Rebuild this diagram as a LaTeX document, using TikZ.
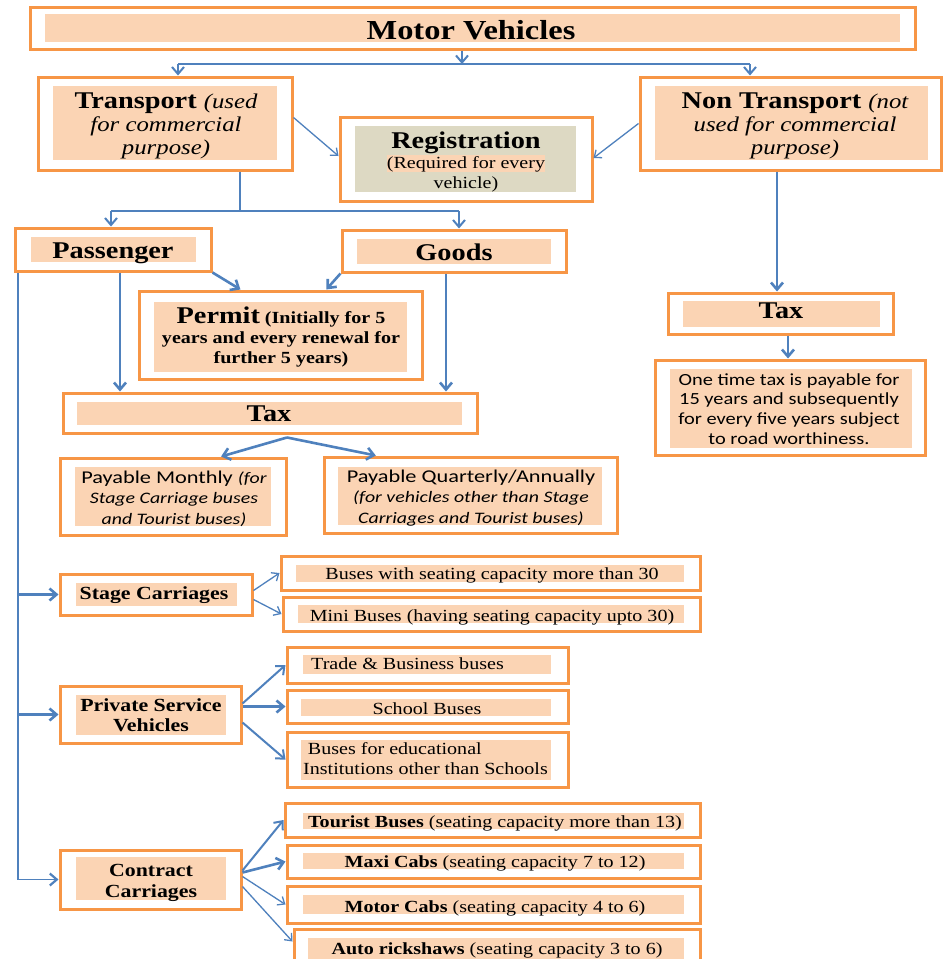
\documentclass[tikz,border=0pt]{standalone}
\usepackage{fontspec}
\setmainfont{Liberation Serif}
\newfontfamily\calib{Carlito}
\usepackage{graphicx}
\usetikzlibrary{arrows.meta,calc,fit}
\definecolor{bor}{HTML}{F79646}
\definecolor{peach}{HTML}{FBD4B4}
\definecolor{tanbg}{HTML}{DDD9C3}
\definecolor{arr}{HTML}{4F81BD}
\newcommand\T[3][1.18]{\scalebox{#1}[1]{\begin{tabular}[t]{@{}#2@{}}#3\end{tabular}}}
\newcommand\fs[2]{\fontsize{#1}{#2}\selectfont}
\newcommand\iTx{\normalfont\itshape\fs{21}{23}}
\newcommand\bx[9]{%
  \node[obox, fit={(#2,#3)(#4,#5)}] (#1) {};
  \fill[peach] (#6,#7) rectangle (#8,#9);
}
\tikzset{
  obox/.style={draw=bor, line width=3pt, inner sep=0pt, rectangle},
  conn/.style={draw=arr, line width=2pt, -{Straight Barb[length=7pt,width=12pt]}},
  thinc/.style={draw=arr, line width=1.3pt, -{Straight Barb[length=6pt,width=10pt]}},
  thickc/.style={draw=arr, line width=2.6pt, -{Straight Barb[length=7pt,width=12pt]}},
  plain/.style={draw=arr, line width=1.5pt},
  txt/.style={inner sep=0pt, anchor=base},
  txtl/.style={inner sep=0pt, anchor=base west},
}
\begin{document}
\begin{tikzpicture}[x=1pt,y=-1pt]
\useasboundingbox (0,0) rectangle (944,959);
\fill[white] (0,0) rectangle (944,959);
\clip (0,0) rectangle (944,959);
% boxes
\bx{mv}{30}{7}{915}{49}{45}{14}{900}{42}
\bx{tr}{38}{77}{292}{170}{53}{86}{277}{160}
\bx{reg}{340}{117}{592}{201}{355}{126}{576}{192}
\fill[tanbg] (355,126) rectangle (576,192);
\fill[peach] (387,155) rectangle (545,172);
\bx{nt}{640}{77}{941}{170}{655}{86}{928}{160}
\bx{pa}{15}{228}{211}{271}{31}{237}{196}{262}
\bx{go}{342}{230}{566}{272}{357}{239}{551}{264}
\bx{pe}{139}{291}{422}{379}{154}{302}{407}{372}
\bx{tx1}{63}{393}{477}{433}{77}{402}{462}{425}
\bx{pm}{60}{458}{286}{535}{75}{467}{271}{526}
\bx{pq}{324}{457}{617}{533}{338}{467}{602}{525}
\bx{tx2}{668}{293}{893}{334}{683}{301}{880}{327}
\bx{ot}{655}{360}{925}{455}{670}{369}{912}{448}
\bx{sc}{60}{574}{252}{615}{76}{583}{237}{606}
\bx{bw}{281}{556}{700}{590}{296}{565}{684}{582}
\bx{mb}{283}{597}{700}{631}{298}{605}{684}{623}
\bx{psv}{60}{686}{241}{743}{76}{695}{226}{735}
\bx{tb}{287}{647}{568}{683}{303}{655}{551}{674}
\bx{sb}{287}{690}{568}{723}{301}{699}{551}{716}
\bx{be}{287}{732}{568}{787}{301}{740}{551}{780}
\bx{cc}{60}{850}{241}{909}{76}{857}{226}{900}
\bx{tu}{285}{803}{700}{837}{303}{813}{684}{829}
\bx{mx}{287}{845}{700}{878}{303}{853}{684}{869}
\bx{mc}{287}{886}{700}{923}{303}{895}{684}{914}
\bx{ar}{294}{929}{700}{975}{308}{938}{684}{968}
% connectors
\coordinate (j1) at (462,64);
\coordinate (jl) at (178,64);
\coordinate (jr) at (750,64);
\draw[conn] (mv.south -| j1) -- (j1);
\draw[plain, line width=1.3pt] (jl) -- (jr);
\draw[conn] (jl) -- (jl |- tr.north);
\draw[conn] (jr) -- (jr |- nt.north);
\draw[thinc] ([yshift=6pt]tr.east) -- ([yshift=3pt]reg.west);
\draw[thinc] (nt.west) -- ([yshift=1pt]reg.east);
\coordinate (j2) at (240,211);
\coordinate (jpl) at (111,211);
\coordinate (jpr) at (459,211);
\draw[plain, line width=1.2pt] (tr.south -| j2) -- (j2);
\draw[plain] (jpl) -- (jpr);
\draw[conn] (jpl) -- (jpl |- pa.north);
\draw[conn] (jpr) -- (jpr |- go.north);
\coordinate (xn) at (777,0);
\draw[thickc] (nt.south -| xn) -- (tx2.north -| xn);
\draw[thickc] (pa.south east) -- ($(pe.north west)!0.36!(pe.north east)$);
\draw[thickc] (go.south west) -- ($(pe.north west)!0.66!(pe.north east)$);
\coordinate (xp) at (120,0);
\draw[thickc] (pa.south -| xp) -- (tx1.north -| xp);
\coordinate (xg) at (446,0);
\draw[thickc] (go.south -| xg) -- (tx1.north -| xg);
\draw[thickc] ($(tx1.south)+(17,3)$) -- ($(pm.north west)!0.71!(pm.north east)$);
\draw[thickc] ($(tx1.south)+(17,3)$) -- ($(pq.north west)!0.18!(pq.north east)$);
\coordinate (xt) at (788,0);
\draw[thickc] (tx2.south -| xt) -- (ot.north -| xt);
\coordinate (xl) at (18,0);
\draw[draw=arr, line width=1.5pt, -{Straight Barb[length=7pt,width=12pt,line width=2.2pt]}] (pa.south -| xl) -- (xl |- cc.west) -- (cc.west);
\draw[thickc] (xl |- sc.west) -- (sc.west);
\draw[thickc] (xl |- psv.west) -- (psv.west);
\draw[thinc] ([yshift=4pt]sc.east) -- (bw.west);
\draw[thinc] ([yshift=-5pt]sc.east) -- (mb.west);
\draw[conn] ([yshift=11pt]psv.east) -- (tb.west);
\draw[thickc] (sb.west -| psv.east) -- (sb.west);
\draw[conn] ([yshift=-8pt]psv.east) -- (be.west);
\draw[conn] ([yshift=9pt]cc.east) -- (tu.west);
\draw[thickc] ([yshift=7pt]cc.east) -- (mx.west);
\draw[thinc] ([yshift=3pt]cc.east) -- (mc.west);
\draw[thinc] ([yshift=-7pt]cc.east) -- ($(ar.north west)+(0,14)$);
% texts
\node[txt, font=\fs{27.5}{30}\bfseries] (tmv) at (471,39) {\T{c}{Motor Vehicles}};
\node[txt, font=\fs{24}{23}] (ttr) at (166,108) {\T{c}{\bfseries Transport \iTx(used\\ \iTx for commercial\\ \iTx purpose)}};
\node[txt, font=\fs{24}{23}] (tnt) at (795,108) {\T{c}{\bfseries Non Transport \iTx(not\\ \iTx used for commercial\\ \iTx purpose)}};
\node[txt, font=\fs{24}{24}\bfseries] (treg) at (466,148) {\T{c}{Registration}};
\node[txt, font=\fs{17}{20}] (treq) at (466,168) {\T{c}{(Required for every\\vehicle)}};
\node[txt, font=\fs{24}{24}\bfseries] (tpa) at (113,258) {\T{c}{Passenger}};
\node[txt, font=\fs{24}{24}\bfseries] (tgo) at (454,260) {\T{c}{Goods}};
\node[txt, font=\fs{17}{20}\bfseries] (tpe) at (281,323) {\T{c}{{\fs{24}{20}Permit} (Initially for 5\\years and every renewal for\\further 5 years)}};
\node[txt, font=\fs{24}{24}\bfseries] (ttx1) at (269,421) {\T{c}{Tax}};
\node[txt, font=\fs{24}{24}\bfseries] (ttx2) at (781,318) {\T{c}{Tax}};
\node[txt, font=\calib\fs{17}{19.7}] (tot) at (789,385) {\T[1.2]{c}{One time tax is payable for\\15 years and subsequently\\for every five years subject\\to road worthiness.}};
\node[txt, font=\calib\fs{18}{20.5}] (tpm) at (174,483) {\T[1.24]{c}{Payable Monthly {\itshape\fs{16}{20.5}(for}\\ \itshape\fs{16}{20.5}Stage Carriage buses\\ \itshape\fs{16}{20.5}and Tourist buses)}};
\node[txt, font=\calib\fs{18}{20.5}] (tpq) at (471,482) {\T[1.24]{c}{Payable Quarterly/Annually\\ \itshape\fs{16}{20.5}(for vehicles other than Stage\\ \itshape\fs{16}{20.5}Carriages and Tourist buses)}};
\node[txt, font=\fs{18.5}{20}\bfseries] (tsc) at (154,599) {\T{c}{Stage Carriages}};
\node[txt, font=\fs{17}{20}] (tbw) at (492,579) {\T{c}{Buses with seating capacity more than 30}};
\node[txt, font=\fs{17}{20}] (tmb) at (492,621) {\T{c}{Mini Buses (having seating capacity upto 30)}};
\node[txt, font=\fs{18.5}{20}\bfseries] (tpsv) at (151,711) {\T{c}{Private Service\\Vehicles}};
\node[txtl, font=\fs{17}{20}] (ttb) at (311,669) {\T{l}{Trade \& Business buses}};
\node[txt, font=\fs{17}{20}] (tsb) at (427,714) {\T{c}{School Buses}};
\node[txtl, font=\fs{17}{20}] (tbe) at (303,754) {\T{l}{\hspace{4pt}Buses for educational\\Institutions other than Schools}};
\node[txt, font=\fs{18.5}{21}\bfseries] (tcc) at (151,876) {\T{c}{Contract\\Carriages}};
\node[txt, font=\fs{17}{20}] (ttu) at (495,827) {\T{c}{{\bfseries Tourist Buses} (seating capacity more than 13)}};
\node[txt, font=\fs{17}{20}] (tmx) at (495,867) {\T{c}{{\bfseries Maxi Cabs} (seating capacity 7 to 12)}};
\node[txt, font=\fs{17}{20}] (tmc) at (495,912) {\T{c}{{\bfseries Motor Cabs} (seating capacity 4 to 6)}};
\node[txt, font=\fs{17}{20}] (tar) at (497,954) {\T{c}{{\bfseries Auto rickshaws} (seating capacity 3 to 6)}};
\end{tikzpicture}
\end{document}
